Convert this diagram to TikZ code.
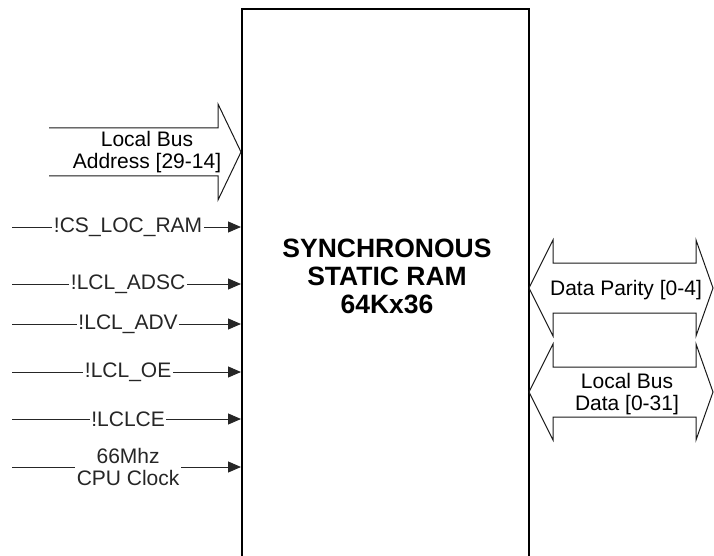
\documentclass[tikz,border=0pt]{standalone}
\usepackage{fontspec}
\setmainfont{Liberation Sans}
\usetikzlibrary{arrows.meta,positioning,calc}
\tikzset{
  chipbox/.style={draw=black,line width=2.2pt,minimum width=287pt,minimum height=600pt,
                  anchor=north west,inner sep=0pt},
  siglabel/.style={fill=white,inner sep=1.5pt,align=center},
  sigarrow/.style={-{Triangle[length=13pt,width=11pt]},line width=1pt,black!85},
  busline/.style={line width=1pt,black!90,line join=miter},
}

\begin{document}
\begin{tikzpicture}[
  x=1pt, y=-1pt,
  font=\fontsize{21}{22.5}\selectfont,
  every node/.style={align=center},
]
\useasboundingbox (0,0) rectangle (714,556);
\clip (0,0) rectangle (714,556);

% =================================================================
% RAM body -- bottom edge runs off the page
% =================================================================
\node[chipbox] (ram) at (241,8) {};
\node[font=\fontsize{26.5}{28}\selectfont\bfseries] (title) at (387,276)
      {SYNCHRONOUS\\STATIC RAM\\64Kx36};

% =================================================================
% address bus (left, into the chip)
% =================================================================
\coordinate (addr-tip) at (ram.west |- 0,152);
\draw[busline] ($ (addr-tip) +(-192,-24) $) -- ++(169,0) -- ++(0,-24)
  -- (addr-tip) -- ++(-23,48) -- ++(0,-24) -- ++(-169,0);
\node (addr) at (147,152) {Local Bus\\Address [29-14]};

% =================================================================
% control signals
% =================================================================
\foreach \y/\name/\txt in {227/cs/{!CS\_LOC\_RAM}, 284/adsc/{!LCL\_ADSC},
                           324/adv/{!LCL\_ADV}, 372/oe/{!LCL\_OE},
                           419/ce/{!LCLCE}, 467/clk/{66Mhz\\CPU Clock}}
{
  \coordinate (\name-in) at (12,\y);
  \draw[sigarrow] (\name-in) -- (\name-in -| ram.west)
    node[siglabel, pos=0.507] (\name) {\txt};
}

% =================================================================
% data buses (right, both ways)
% =================================================================
\foreach \name/\y in {par/288, dat/392}
{
  \coordinate (\name-tip) at (529,\y);
  \draw[busline] (\name-tip) -- ++(24,-48) -- ++(0,23) -- ++(143,0) -- ++(0,-23)
    -- ++(17,48) -- ++(-17,48) -- ++(0,-23) -- ++(-143,0) -- ++(0,23) -- cycle;
}
\node (par) at (626,290) {Data Parity [0-4]};
\node (dat) at (627,394) {Local Bus\\Data [0-31]};

\end{tikzpicture}
\end{document}
